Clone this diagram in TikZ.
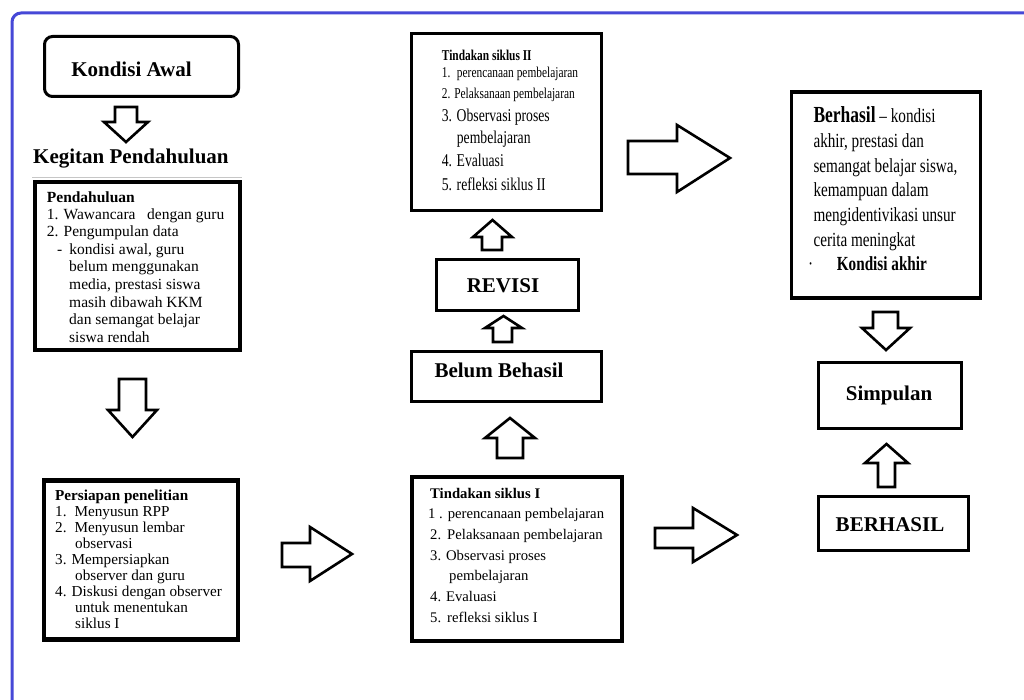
\documentclass[tikz,border=0pt]{standalone}
\usepackage{fontspec}
\setmainfont{Liberation Serif}
\newfontfamily\condf[FakeStretch=0.76]{Liberation Serif}
\definecolor{frameblue}{RGB}{70,72,215}
\tikzset{
  bx/.style={draw=black, line width=3pt, fill=white, inner sep=0pt},
  big/.style={font=\fontsize{21}{24}\selectfont\bfseries, inner sep=0pt},
  blk/.style={draw=black, line width=2.6pt, fill=white, line join=miter, miter limit=10},
  ln/.style={anchor=base west, inner sep=0pt},
  fa/.style={ln, font=\fontsize{15.5}{17}\selectfont},
  fb/.style={ln, font=\fontsize{15.2}{17}\selectfont},
  fc/.style={ln, font=\fontsize{14.7}{17}\selectfont},
  fd/.style={ln, font=\condf\fontsize{15}{17}\selectfont},
  fe/.style={ln, font=\condf\fontsize{18}{20}\selectfont},
  ff/.style={ln, font=\condf\fontsize{20}{22}\selectfont},
}
\begin{document}
\begin{tikzpicture}[x=1pt,y=-1pt]
\useasboundingbox[fill=white] (0,0) rectangle (1024,700);
% outer frame
\draw[frameblue, line width=3pt, rounded corners=9pt] (12,705) -- (12,13) -- (1030,13);
\draw[gray!45, line width=1pt] (32,178) -- (242,178);

% ---- boxes ----
\node[bx, rounded corners=8pt, minimum width=194pt, minimum height=60pt] (kond) at (141.5,66.5) {};
\node[bx, line width=4pt, minimum width=205pt, minimum height=168pt] (pend) at (137.5,266) {};
\node[bx, line width=4.5pt, minimum width=194pt, minimum height=159pt] (pers) at (141,560) {};
\node[bx, line width=4pt, minimum width=209.5pt, minimum height=164pt] (tin1) at (516.75,559) {};
\node[bx, minimum width=190pt, minimum height=177pt] (tin2) at (506.5,122.5) {};
\node[bx, line width=3.5pt, minimum width=189pt, minimum height=206pt] (berh) at (886,195) {};
\node[bx, minimum width=143pt, minimum height=66pt] (simp) at (890,395.5) {};
\node[bx, minimum width=150pt, minimum height=54pt] (BERH) at (893.5,523) {};
\node[bx, minimum width=142pt, minimum height=51pt] (revi) at (507.5,285) {};
\node[bx, line width=3.5pt, minimum width=190pt, minimum height=50pt] (belu) at (506.5,376.5) {};

% ---- single labels ----
\node[big] (kondT) at (131.5,69.5) {Kondisi Awal};
\node[big, anchor=base west] (kegT) at (33,163.5) {Kegitan Pendahuluan};
\node[big] (simpT) at (889,395) {Simpulan};
\node[big] (BERHT) at (890,525) {BERHASIL};
\node[big] (reviT) at (503,286) {REVISI};
\node[big] (beluT) at (499,370) {Belum Behasil};

% ---- Pendahuluan ----
\node[fa, font=\fontsize{15.5}{17}\selectfont\bfseries] (pd0) at (46.7,202.5) {Pendahuluan};
\node[fa] (pd1) at (46.7,219.5) {1. Wawancara\ \ \ dengan guru};
\node[fa] (pd2) at (46.7,237) {2. Pengumpulan data};
\node[fa] (pd3) at (57,254.5) {-\hspace{7pt}kondisi awal, guru};
\node[fa] (pd4) at (69,272) {belum menggunakan};
\node[fa] (pd5) at (69,289.5) {media, prestasi siswa};
\node[fa] (pd6) at (69,307) {masih dibawah KKM};
\node[fa] (pd7) at (69,324.5) {dan semangat belajar};
\node[fa] (pd8) at (69,342) {siswa rendah};

% ---- Persiapan ----
\node[fb, font=\fontsize{15.2}{17}\selectfont\bfseries] (ps0) at (55,500) {Persiapan penelitian};
\node[fb] (ps1) at (55,516) {1.\hspace{8pt}Menyusun RPP};
\node[fb] (ps2) at (55,532) {2.\hspace{8pt}Menyusun lembar};
\node[fb] (ps3) at (75,548) {observasi};
\node[fb] (ps4) at (55,564) {3. Mempersiapkan};
\node[fb] (ps5) at (75,580) {observer dan guru};
\node[fb] (ps6) at (55,596) {4. Diskusi dengan observer};
\node[fb] (ps7) at (75,612) {untuk menentukan};
\node[fb] (ps8) at (75,628) {siklus I};

% ---- Tindakan siklus I ----
\node[fc, font=\fontsize{14.7}{17}\selectfont\bfseries] (ta0) at (430,498) {Tindakan siklus I};
\node[fc] (ta1) at (428,518.7) {1 . perencanaan pembelajaran};
\node[fc] (ta2) at (430,539.4) {2.\hspace{6pt}Pelaksanaan pembelajaran};
\node[fc] (ta3) at (430,560) {3. Observasi proses};
\node[fc] (ta4) at (449,580.8) {pembelajaran};
\node[fc] (ta5) at (430,601.5) {4. Evaluasi};
\node[fc] (ta6) at (430,622) {5.\hspace{6pt}refleksi siklus I};

% ---- Tindakan siklus II ----
\node[fd, font=\condf\fontsize{15}{17}\selectfont\bfseries] (tb0) at (441.7,61) {Tindakan siklus II};
\node[fd] (tb1) at (441.7,78) {1.\hspace{6.5pt}perencanaan pembelajaran};
\node[fd] (tb2) at (441.7,99) {2. Pelaksanaan pembelajaran};
\node[fe] (tb3) at (441.7,122) {3. Observasi proses};
\node[fe] (tb4) at (456.7,144) {pembelajaran};
\node[fe] (tb5) at (441.7,167) {4. Evaluasi};
\node[fe] (tb6) at (441.7,191) {5. refleksi siklus II};

% ---- Berhasil ----
\node[ff] (bh0) at (813.3,122.7) {{\fontsize{23}{25}\selectfont\bfseries Berhasil} – kondisi};
\node[ff] (bh1) at (813.3,147.4) {akhir, prestasi dan};
\node[ff] (bh2) at (813.3,172.1) {semangat belajar siswa,};
\node[ff] (bh3) at (813.3,196.8) {kemampuan dalam};
\node[ff] (bh4) at (813.3,221.5) {mengidentivikasi unsur};
\node[ff] (bh5) at (813.3,246.2) {cerita meningkat};
\node[ff] (bh6) at (808,270.7) {·};
\node[ff, font=\condf\fontsize{20}{22}\selectfont\bfseries] (bh7) at (836.7,270.7) {Kondisi akhir};

% ---- block arrows ----
% Kondisi Awal -> Kegitan Pendahuluan
\draw[blk] (115,107) -- (137,107) -- (137,122) -- (148,122) -- (126,142) -- (104,122) -- (115,122) -- cycle;
% Pendahuluan -> Persiapan
\draw[blk] (119,379) -- (146,379) -- (146,410) -- (157,410) -- (132.5,437) -- (108,410) -- (119,410) -- cycle;
% Persiapan -> Tindakan I
\draw[blk] (282,543) -- (310,543) -- (310,527) -- (352,554) -- (310,581) -- (310,567) -- (282,567) -- cycle;
% Tindakan I -> BERHASIL
\draw[blk] (655,528) -- (693,528) -- (693,508) -- (737,535) -- (693,562) -- (693,548) -- (655,548) -- cycle;
% Tindakan II -> Berhasil
\draw[blk] (628,141) -- (677,141) -- (677,125) -- (730,158) -- (677,192) -- (677,174) -- (628,174) -- cycle;
% Tindakan I -> Belum Behasil
\draw[blk] (497,458) -- (497,438) -- (485,438) -- (510,418) -- (535,438) -- (523,438) -- (523,458) -- cycle;
% Belum Behasil -> REVISI
\draw[blk] (493,342) -- (493,328) -- (485,328) -- (503.5,316) -- (522,328) -- (512,328) -- (512,342) -- cycle;
% REVISI -> Tindakan II
\draw[blk] (482,250) -- (482,237) -- (473,237) -- (492.5,220) -- (512,237) -- (502,237) -- (502,250) -- cycle;
% BERHASIL -> Simpulan
\draw[blk] (878,487) -- (878,463) -- (865,463) -- (886.5,444) -- (908,463) -- (895,463) -- (895,487) -- cycle;
% Berhasil -> Simpulan
\draw[blk] (873,312) -- (898,312) -- (898,328) -- (910,328) -- (886,350) -- (862,328) -- (873,328) -- cycle;
\end{tikzpicture}
\end{document}
